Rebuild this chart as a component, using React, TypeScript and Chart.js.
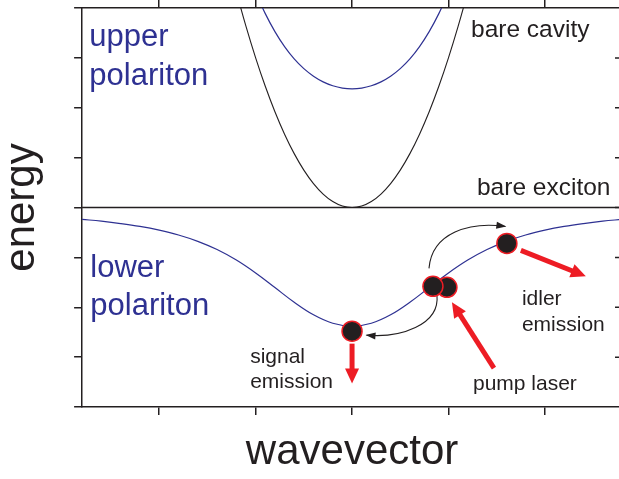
import React, { useEffect, useRef } from "react";
import { Chart, registerables } from "chart.js";

Chart.register(...registerables);

// ---- data (wavevector k, energy E) ----
const kLower = [-2.8, -2.6, -2.4, -2.2, -2.0, -1.8, -1.6, -1.4, -1.2, -1.0, -0.8, -0.6, -0.4, -0.2, 0, 0.2, 0.4, 0.6, 0.8, 1.0, 1.2, 1.4, 1.6, 1.8, 2.0, 2.2, 2.4, 2.6, 2.8];
const lowerPolariton = [3.762, 3.725, 3.678, 3.62, 3.545, 3.449, 3.322, 3.157, 2.946, 2.687, 2.394, 2.1, 1.848, 1.679, 1.62, 1.679, 1.848, 2.1, 2.394, 2.687, 2.946, 3.157, 3.322, 3.449, 3.545, 3.62, 3.678, 3.725, 3.762];

const kUpper = [-1.0, -0.9, -0.8, -0.7, -0.6, -0.5, -0.4, -0.3, -0.2, -0.1, 0, 0.1, 0.2, 0.3, 0.4, 0.5, 0.6, 0.7, 0.8, 0.9, 1.0];
const upperPolariton = [8.313, 7.887, 7.526, 7.226, 6.98, 6.784, 6.632, 6.519, 6.441, 6.395, 6.38, 6.395, 6.441, 6.519, 6.632, 6.784, 6.98, 7.226, 7.526, 7.887, 8.313];

const kCavity = [-1.2, -1.1, -1.0, -0.9, -0.8, -0.7, -0.6, -0.5, -0.4, -0.3, -0.2, -0.1, 0, 0.1, 0.2, 0.3, 0.4, 0.5, 0.6, 0.7, 0.8, 0.9, 1.0, 1.1, 1.2];
const bareCavity = [8.32, 7.63, 7.0, 6.43, 5.92, 5.47, 5.08, 4.75, 4.48, 4.27, 4.12, 4.03, 4.0, 4.03, 4.12, 4.27, 4.48, 4.75, 5.08, 5.47, 5.92, 6.43, 7.0, 7.63, 8.32];

const kExciton = [-2.8, 2.8];
const bareExciton = [4, 4];

// particles: signal, pump (right), pump (left), idler
const particleK = [0, 0.984, 0.839, 1.606];
const particleE = [1.52, 2.4, 2.42, 3.28];

const xTickValues = [-2, -1, 0, 1, 2];
const yTickValues = [0, 1, 2, 3, 4, 5, 6, 7, 8];

const X_MIN = -2.8;
const X_MAX = 2.8;
const Y_MIN = 0;
const Y_MAX = 8;

const BLUE = "#2e3192";
const DARK = "#231f20";
const RED = "#ed1c24";
const FONT = "'Liberation Sans', Arial, Helvetica, sans-serif";

const pts = (xs: number[], ys: number[]) => xs.map((x, i) => ({ x, y: ys[i] }));

function redArrow(ctx: CanvasRenderingContext2D, x0: number, y0: number, x1: number, y1: number) {
  const dx = x1 - x0, dy = y1 - y0;
  const len = Math.hypot(dx, dy);
  const ux = dx / len, uy = dy / len;
  const head = 15, half = 7;
  const bx = x1 - ux * head, by = y1 - uy * head;
  ctx.save();
  ctx.strokeStyle = RED;
  ctx.fillStyle = RED;
  ctx.lineWidth = 5;
  ctx.lineCap = "butt";
  ctx.beginPath();
  ctx.moveTo(x0, y0);
  ctx.lineTo(bx + ux * 2, by + uy * 2);
  ctx.stroke();
  ctx.beginPath();
  ctx.moveTo(x1, y1);
  ctx.lineTo(bx - uy * half, by + ux * half);
  ctx.lineTo(bx + uy * half, by - ux * half);
  ctx.closePath();
  ctx.fill();
  ctx.restore();
}

function curvedArrow(ctx: CanvasRenderingContext2D, p: number[][]) {
  const [p0, c1, c2, p3] = p;
  ctx.save();
  ctx.strokeStyle = DARK;
  ctx.fillStyle = DARK;
  ctx.lineWidth = 1.1;
  ctx.beginPath();
  ctx.moveTo(p0[0], p0[1]);
  ctx.bezierCurveTo(c1[0], c1[1], c2[0], c2[1], p3[0], p3[1]);
  ctx.stroke();
  const dx = p3[0] - c2[0], dy = p3[1] - c2[1];
  const len = Math.hypot(dx, dy);
  const ux = dx / len, uy = dy / len;
  const head = 9, half = 3.5;
  const bx = p3[0] - ux * head, by = p3[1] - uy * head;
  ctx.beginPath();
  ctx.moveTo(p3[0] + ux * 1, p3[1] + uy * 1);
  ctx.lineTo(bx - uy * half, by + ux * half);
  ctx.lineTo(bx + uy * half, by - ux * half);
  ctx.closePath();
  ctx.fill();
  ctx.restore();
}

const annotationPlugin = {
  id: "polaritonAnnotations",
  beforeDatasetsDraw(chart: any) {
    const { ctx, scales } = chart;
    const X = (v: number) => scales.x.getPixelForValue(v);
    const Y = (v: number) => scales.y.getPixelForValue(v);
    // pump -> idler
    curvedArrow(ctx, [
      [X(0.798), Y(2.78)],
      [X(0.829), Y(3.5)],
      [X(1.223), Y(3.72)],
      [X(1.59), Y(3.62)],
    ]);
    // pump -> signal
    curvedArrow(ctx, [
      [X(0.881), Y(2.24)],
      [X(0.912), Y(1.64)],
      [X(0.497), Y(1.38)],
      [X(0.15), Y(1.44)],
    ]);
  },
  afterDatasetsDraw(chart: any) {
    const { ctx, scales } = chart;
    const X = (v: number) => scales.x.getPixelForValue(v);
    const Y = (v: number) => scales.y.getPixelForValue(v);
    // red emission / pump arrows
    redArrow(ctx, X(0), Y(1.27), X(0), Y(0.47));
    redArrow(ctx, X(1.751), Y(3.14), X(2.425), Y(2.62));
    redArrow(ctx, X(1.472), Y(0.78), X(1.036), Y(2.1));

    ctx.save();
    ctx.textAlign = "left";
    ctx.textBaseline = "alphabetic";
    ctx.fillStyle = BLUE;
    ctx.font = `31px ${FONT}`;
    ctx.fillText("upper", X(-2.725), Y(7.24));
    ctx.fillText("polariton", X(-2.725), Y(6.46));
    ctx.fillText("lower", X(-2.715), Y(2.6));
    ctx.fillText("polariton", X(-2.715), Y(1.84));

    ctx.fillStyle = DARK;
    ctx.font = `24.5px ${FONT}`;
    ctx.fillText("bare cavity", X(1.234), Y(7.42));
    ctx.fillText("bare exciton", X(1.296), Y(4.26));

    ctx.font = `21px ${FONT}`;
    ctx.fillText("signal", X(-1.057), Y(0.88));
    ctx.fillText("emission", X(-1.057), Y(0.38));
    ctx.fillText("pump laser", X(1.254), Y(0.34));
    ctx.fillText("idler", X(1.762), Y(2.04));
    ctx.fillText("emission", X(1.762), Y(1.52));
    ctx.restore();
  },
  afterDraw(chart: any) {
    const { ctx, scales, chartArea } = chart;
    ctx.save();
    ctx.strokeStyle = DARK;
    ctx.lineWidth = 1.5;
    ctx.beginPath();
    for (const v of yTickValues.slice(1, -1)) {
      const y = scales.y.getPixelForValue(v);
      ctx.moveTo(chartArea.right - 7, y);
      ctx.lineTo(chartArea.right, y);
    }
    ctx.stroke();
    ctx.restore();
  },
};

const setTicks = (vals: number[]) => (scale: any) => {
  scale.ticks = vals.map((v) => ({ value: v }));
};

const axisGrid = { drawOnChartArea: false, drawTicks: true, tickLength: 8, color: DARK, lineWidth: 1.5 };
const axisBorder = { display: true, color: DARK, width: 1.5 };

export default function App() {
  const ref = useRef<HTMLCanvasElement | null>(null);

  useEffect(() => {
    if (!ref.current) return;
    const chart = new Chart(ref.current, {
      type: "scatter",
      data: {
        datasets: [
          {
            label: "particles",
            data: pts(particleK, particleE),
            pointRadius: 10,
            pointBackgroundColor: DARK,
            pointBorderColor: RED,
            pointBorderWidth: 1.5,
            showLine: false,
          },
          {
            label: "lower polariton",
            data: pts(kLower, lowerPolariton),
            showLine: true,
            borderColor: BLUE,
            borderWidth: 1.2,
            pointRadius: 0,
            tension: 0.4,
          },
          {
            label: "upper polariton",
            data: pts(kUpper, upperPolariton),
            showLine: true,
            borderColor: BLUE,
            borderWidth: 1.2,
            pointRadius: 0,
            tension: 0.4,
          },
          {
            label: "bare cavity",
            data: pts(kCavity, bareCavity),
            showLine: true,
            borderColor: DARK,
            borderWidth: 1.1,
            pointRadius: 0,
            tension: 0.4,
          },
          {
            label: "bare exciton",
            data: pts(kExciton, bareExciton),
            showLine: true,
            borderColor: DARK,
            borderWidth: 1.3,
            pointRadius: 0,
          },
        ],
      },
      options: {
        responsive: false,
        animation: false,
        devicePixelRatio: 1,
        layout: { autoPadding: false, padding: { left: 0, right: 0, top: 0, bottom: 1.6 } },
        plugins: { legend: { display: false }, tooltip: { enabled: false } },
        scales: {
          x: {
            type: "linear",
            position: "bottom",
            min: X_MIN,
            max: X_MAX,
            afterBuildTicks: setTicks(xTickValues),
            ticks: { display: false },
            grid: axisGrid,
            border: axisBorder,
            title: {
              display: true,
              text: "wavevector",
              color: DARK,
              font: { size: 42, family: FONT, lineHeight: 1.2 },
              padding: { top: 12, bottom: 0 },
            },
          },
          x2: {
            type: "linear",
            position: "top",
            min: X_MIN,
            max: X_MAX,
            afterBuildTicks: setTicks(xTickValues),
            ticks: { display: false },
            grid: axisGrid,
            border: axisBorder,
          },
          y: {
            type: "linear",
            position: "left",
            min: Y_MIN,
            max: Y_MAX,
            afterBuildTicks: setTicks(yTickValues),
            ticks: { display: false },
            grid: axisGrid,
            border: axisBorder,
            title: {
              display: true,
              text: "energy",
              color: DARK,
              font: { size: 42, family: FONT, lineHeight: 1.05 },
              padding: { top: 0, bottom: 30 },
            },
          },
          y2: {
            type: "linear",
            position: "right",
            min: Y_MIN,
            max: Y_MAX,
            ticks: { display: false },
            grid: { drawOnChartArea: false, drawTicks: false, color: DARK },
            border: axisBorder,
          },
        },
      },
      plugins: [annotationPlugin],
    } as any);
    return () => chart.destroy();
  }, []);

  return (
    <div style={{ position: "fixed", left: 0, top: 0, width: 619, height: 479, overflow: "hidden", background: "#fff" }}>
      <canvas ref={ref} width={622} height={479} style={{ display: "block" }} />
    </div>
  );
}
